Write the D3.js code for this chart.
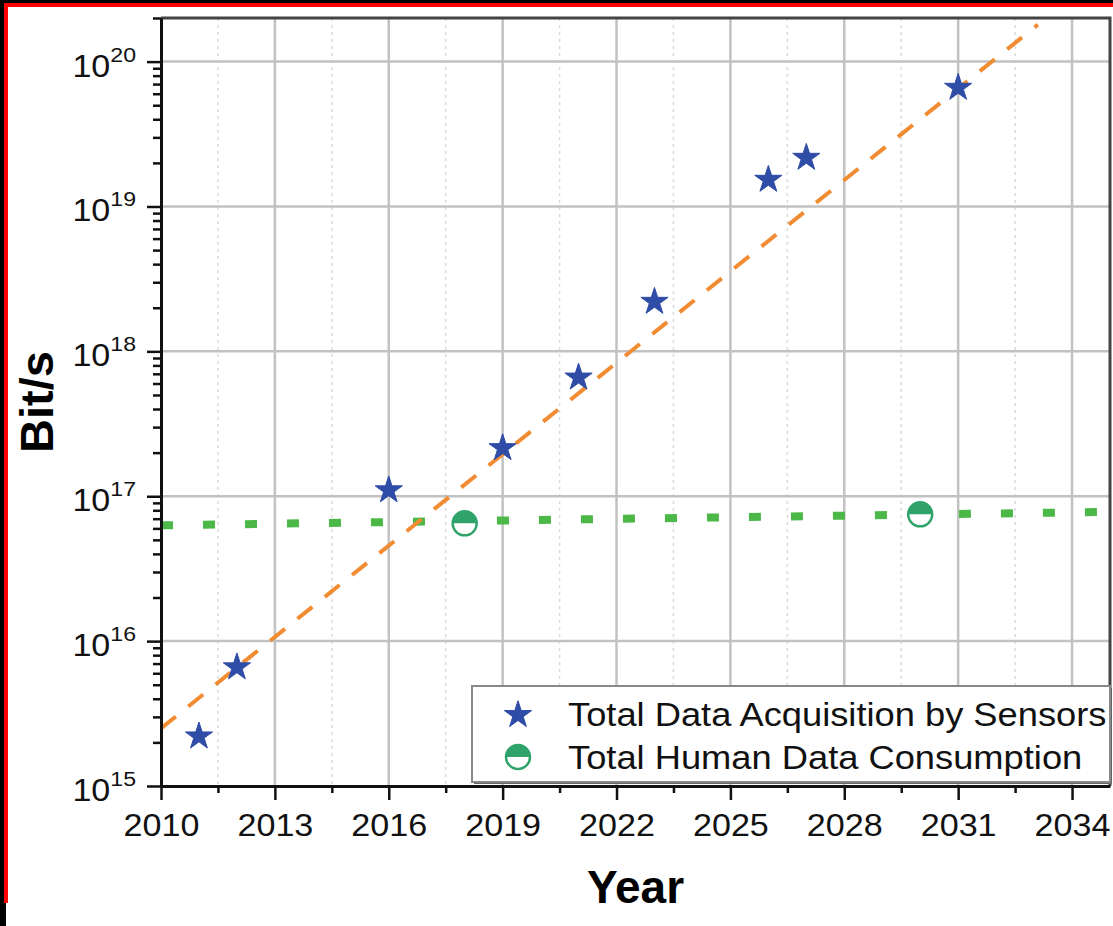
<!DOCTYPE html>
<html>
<head>
<meta charset="utf-8">
<script src="https://cdn.jsdelivr.net/npm/d3@7.9.0/dist/d3.min.js"></script>
<style>
  body { margin: 0; background: #000; }
  svg { display: block; font-family: Arial, "Liberation Sans", sans-serif; }
</style>
</head>
<body>
<div id="chart"></div>
<script>
// Data

// blue stars
const sensorYears = [2011, 2012, 2016, 2019, 2021, 2023, 2026, 2027, 2031];
const sensorRates = [2.2e15, 6.6e15, 1.1e17, 2.15e17, 6.6e17, 2.2e18, 1.53e19, 2.17e19, 6.6e19];

// green half circles
const humanYears = [2018, 2030];
const humanRates = [6.5e16, 7.5e16];

// trend lines (start and end of each fit)
const sensorFitYears = [2010, 2033.1];
const sensorFitRates = [2.5e15, 1.8e20];
const humanFitYears = [2010, 2035];
const humanFitRates = [6.3e16, 7.8e16];

const xTicks = [2010, 2013, 2016, 2019, 2022, 2025, 2028, 2031, 2034];
const yExponents = [15, 16, 17, 18, 19, 20];
const legendLabels = ['Total Data Acquisition by Sensors', 'Total Human Data Consumption'];


/*
 * Draws the whole figure
 * text in the source is a little wide, so labels get a x stretch
 */
function renderChart(elemId) {
  const width = 1113;
  const height = 926;
  const plot = { left: 161, right: 1110, top: 18, bottom: 786 };
  const stretch = 1.1;

  const starColor = '#2f4ca6';
  const circleColor = '#2fa36a';
  const gridColor = '#c2c2c2';

  const svg = d3.select(elemId)
    .append('svg')
    .attr('width', width)
    .attr('height', height);

  // screenshot frame: black strip, red border, white page
  svg.append('rect').attr('width', width).attr('height', height).attr('fill', '#000');
  svg.append('rect').attr('x', 6).attr('y', 3).attr('width', width - 6).attr('height', height - 3).attr('fill', '#fff');
  svg.append('rect').attr('x', 4).attr('y', 3).attr('width', width - 4).attr('height', 4).attr('fill', '#ff0000');
  svg.append('rect').attr('x', 4).attr('y', 3).attr('width', 4).attr('height', 900).attr('fill', '#ff0000');

  const xScale = d3.scaleLinear()
    .domain([2010, 2035])
    .range([plot.left, plot.right]);

  const yScale = d3.scaleLog()
    .domain([1e15, 2e20])
    .range([plot.bottom, plot.top]);

  const yMajor = yExponents.map(e => Math.pow(10, e));
  const yMinor = [];
  yExponents.forEach(e => {
    for (let m = 2; m <= 9; m++) {
      const v = m * Math.pow(10, e);
      if (v <= yScale.domain()[1]) yMinor.push(v);
    }
  });
  const xMinor = xTicks.map(t => t + 1.5);

  // grid
  const grid = svg.append('g');
  grid.selectAll('.minor-grid')
    .data(xMinor)
    .enter()
    .append('line')
    .attr('x1', d => xScale(d))
    .attr('x2', d => xScale(d))
    .attr('y1', plot.top)
    .attr('y2', plot.bottom)
    .attr('stroke', '#dadada')
    .attr('stroke-width', 1.5)
    .attr('stroke-dasharray', '3,4');

  grid.selectAll('.major-grid-x')
    .data(xTicks.slice(1))
    .enter()
    .append('line')
    .attr('x1', d => xScale(d))
    .attr('x2', d => xScale(d))
    .attr('y1', plot.top)
    .attr('y2', plot.bottom)
    .attr('stroke', gridColor)
    .attr('stroke-width', 2.5);

  grid.selectAll('.major-grid-y')
    .data(yMajor.slice(1))
    .enter()
    .append('line')
    .attr('x1', plot.left)
    .attr('x2', plot.right)
    .attr('y1', d => yScale(d))
    .attr('y2', d => yScale(d))
    .attr('stroke', gridColor)
    .attr('stroke-width', 2.5);

  // trend lines
  const line = d3.line()
    .x(d => xScale(d[0]))
    .y(d => yScale(d[1]));

  svg.append('path')
    .datum(humanFitYears.map((yr, i) => [yr, humanFitRates[i]]))
    .attr('d', line)
    .attr('fill', 'none')
    .attr('stroke', '#4cb848')
    .attr('stroke-width', 8)
    .attr('stroke-dasharray', '12,30');

  svg.append('path')
    .datum(sensorFitYears.map((yr, i) => [yr, sensorFitRates[i]]))
    .attr('d', line)
    .attr('fill', 'none')
    .attr('stroke', '#f28c33')
    .attr('stroke-width', 4)
    .attr('stroke-dasharray', '19,16');

  // markers
  const star = d3.symbol().type(d3.symbolStar).size(230);

  svg.selectAll('.star')
    .data(sensorYears.map((yr, i) => [yr, sensorRates[i]]))
    .enter()
    .append('path')
    .attr('class', 'star')
    .attr('d', star)
    .attr('transform', d => `translate(${xScale(d[0])},${yScale(d[1])})`)
    .attr('fill', starColor)
    .attr('stroke', starColor)
    .attr('stroke-width', 1)
    .attr('stroke-linejoin', 'round');

  function halfCircle(g, r) {
    g.append('circle')
      .attr('r', r)
      .attr('fill', '#fff')
      .attr('stroke', circleColor)
      .attr('stroke-width', 2.5);
    g.append('path')
      .attr('d', `M${-r},0 A${r},${r} 0 0 1 ${r},0 Z`)
      .attr('fill', circleColor);
  }

  svg.selectAll('.half')
    .data(humanYears.map((yr, i) => [yr, humanRates[i]]))
    .enter()
    .append('g')
    .attr('class', 'half')
    .attr('transform', d => `translate(${xScale(d[0])},${yScale(d[1])})`)
    .each(function() { halfCircle(d3.select(this), 12); });

  // frame top/right
  svg.append('path')
    .attr('d', `M${plot.left},${plot.top} H${plot.right} V${plot.bottom}`)
    .attr('fill', 'none')
    .attr('stroke', '#444')
    .attr('stroke-width', 3);

  // axes
  const xAxis = svg.append('g')
    .attr('transform', `translate(0,${plot.bottom})`)
    .call(d3.axisBottom(xScale).tickValues(xTicks).tickSize(14).tickSizeOuter(0).tickPadding(14).tickFormat(d3.format('d')));
  svg.append('g')
    .attr('transform', `translate(0,${plot.bottom})`)
    .call(d3.axisBottom(xScale).tickValues(xMinor).tickSize(7).tickSizeOuter(0).tickFormat(''))
    .select('.domain').remove();
  xAxis.selectAll('text')
    .style('font-size', '31px')
    .attr('fill', '#111')
    .attr('transform', `scale(${stretch},1)`);

  svg.append('g')
    .attr('transform', `translate(${plot.left},0)`)
    .call(d3.axisLeft(yScale).tickValues(yMajor).tickSize(14).tickSizeOuter(0).tickFormat(''));
  svg.append('g')
    .attr('transform', `translate(${plot.left},0)`)
    .call(d3.axisLeft(yScale).tickValues(yMinor).tickSize(8).tickSizeOuter(0).tickFormat(''))
    .select('.domain').remove();

  svg.selectAll('.domain').attr('stroke', '#111').attr('stroke-width', 3);
  svg.selectAll('.tick line').attr('stroke', '#111').attr('stroke-width', 2.5);

  // y tick labels as 10 with a superscript
  const yLab = svg.selectAll('.y-label')
    .data(yExponents)
    .enter()
    .append('text')
    .attr('class', 'y-label')
    .attr('transform', e => `translate(136,${yScale(Math.pow(10, e)) + 15}) scale(${stretch},1)`)
    .attr('text-anchor', 'end')
    .attr('fill', '#111')
    .style('font-size', '31px');
  yLab.append('tspan').text('10');
  yLab.append('tspan')
    .attr('dy', -15)
    .style('font-size', '21px')
    .text(e => e);

  // axis titles
  svg.append('text')
    .attr('x', (plot.left + plot.right) / 2)
    .attr('y', 903)
    .attr('text-anchor', 'middle')
    .style('font-size', '46px')
    .style('font-weight', 'bold')
    .text('Year');

  svg.append('text')
    .attr('transform', `translate(53,${(plot.top + plot.bottom) / 2}) rotate(-90)`)
    .attr('text-anchor', 'middle')
    .style('font-size', '47px')
    .style('font-weight', 'bold')
    .text('Bit/s');

  // legend
  const legend = svg.append('g').attr('transform', 'translate(472,686)');
  legend.append('rect')
    .attr('x', 2).attr('y', 2)
    .attr('width', plot.right - 472).attr('height', 96)
    .attr('fill', '#666');
  legend.append('rect')
    .attr('width', plot.right - 472).attr('height', 96)
    .attr('fill', '#fff')
    .attr('stroke', '#888')
    .attr('stroke-width', 2);

  legend.append('path')
    .attr('d', star)
    .attr('transform', 'translate(46,29)')
    .attr('fill', starColor)
    .attr('stroke', starColor)
    .attr('stroke-width', 1);
  halfCircle(legend.append('g').attr('transform', 'translate(46,71)'), 12);

  legend.selectAll('.legend-text')
    .data(legendLabels)
    .enter()
    .append('text')
    .attr('transform', (d, i) => `translate(96,${40 + i * 43}) scale(${stretch},1)`)
    .style('font-size', '33px')
    .attr('fill', '#111')
    .text(d => d);
}


renderChart('#chart');
</script>
</body>
</html>
